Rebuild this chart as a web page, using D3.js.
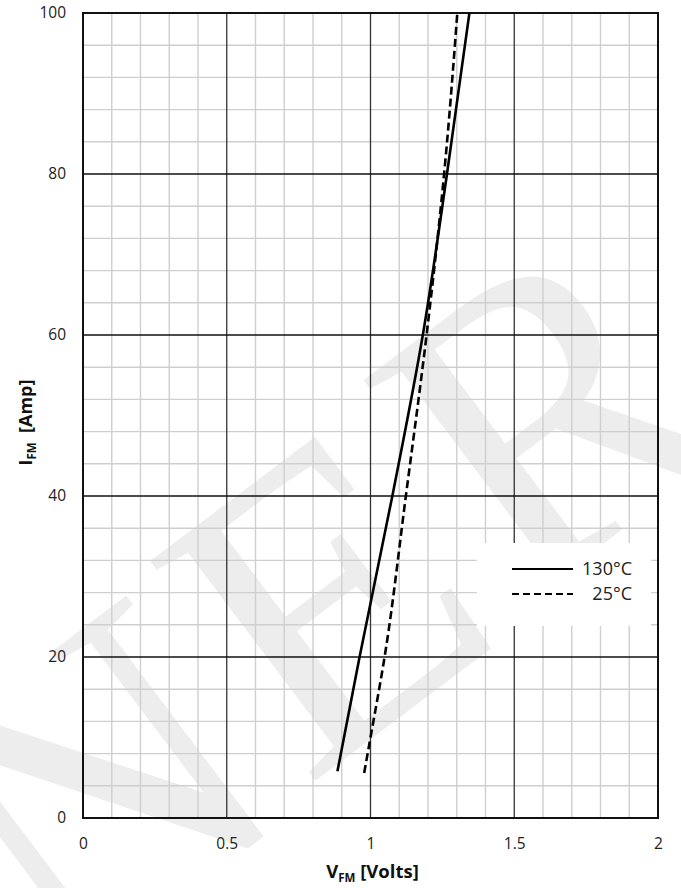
<!DOCTYPE html>
<html><head><meta charset="utf-8">
<script src="https://cdn.jsdelivr.net/npm/d3@7/dist/d3.min.js"></script>
<style>body{margin:0;background:#fff}svg{display:block}</style>
</head><body>
<script>
// ---- data ----
const xTickValues = [0, 0.5, 1, 1.5, 2];
const yTickValues = [0, 20, 40, 60, 80, 100];
const legendLabels = ["130°C", "25°C"];
const v130 = [0.885, 0.962, 1.076, 1.182, 1.266, 1.344];
const i130 = [5.8, 20, 40, 60, 80, 100];
const v25  = [0.978, 1.0, 1.049, 1.123, 1.195, 1.256, 1.302];
const i25  = [5.6, 10, 20, 40, 60, 80, 100];
const watermarkLetters = ["N", "E", "R"];

const W = 681, H = 888;
const L = 83, R = 658, T = 13, B = 818;
const font = "'Open Sans', 'Liberation Sans', sans-serif";

const svg = d3.select("body").append("svg").attr("width", W).attr("height", H);
svg.append("rect").attr("width", W).attr("height", H).attr("fill", "#fff");

// watermark
const wmPos = [[95, 790], [325, 600], [548, 412]];
svg.append("g").selectAll("text").data(watermarkLetters).join("text")
  .attr("transform", (d, k) => `translate(${wmPos[k][0]},${wmPos[k][1]}) rotate(-37)`)
  .attr("text-anchor", "middle").attr("dy", "0.33em")
  .attr("font-family", "'Liberation Serif', serif").attr("font-size", 420)
  .attr("fill", "#ededed").text(d => d);

const x = d3.scaleLinear().domain([0, 2]).range([L, R]);
const y = d3.scaleLinear().domain([0, 100]).range([B, T]);

// minor grid
const g = svg.append("g");
g.selectAll(".mx").data(d3.range(1, 20).filter(k => k % 5 !== 0).map(k => k / 10)).join("line")
  .attr("x1", d => x(d)).attr("x2", d => x(d)).attr("y1", T).attr("y2", B)
  .attr("stroke", "#cfcfcf").attr("stroke-width", 1.4);
g.selectAll(".my").data(d3.range(1, 25).filter(k => k % 5 !== 0).map(k => k * 4)).join("line")
  .attr("y1", d => y(d)).attr("y2", d => y(d)).attr("x1", L).attr("x2", R)
  .attr("stroke", "#cfcfcf").attr("stroke-width", 1.4);
// major grid
g.selectAll(".Mx").data([0.5, 1, 1.5]).join("line")
  .attr("x1", d => x(d)).attr("x2", d => x(d)).attr("y1", T).attr("y2", B)
  .attr("stroke", "#333").attr("stroke-width", 1.3);
g.selectAll(".My").data([20, 40, 60, 80]).join("line")
  .attr("y1", d => y(d)).attr("y2", d => y(d)).attr("x1", L).attr("x2", R)
  .attr("stroke", "#111").attr("stroke-width", 1.3);

// legend background (covers grid)
svg.append("rect").attr("x", 477).attr("y", 543).attr("width", 174).attr("height", 83).attr("fill", "#fff");

// border
svg.append("rect").attr("x", L).attr("y", T).attr("width", R - L).attr("height", B - T)
  .attr("fill", "none").attr("stroke", "#111").attr("stroke-width", 2);

// curves
const line = d3.line().x(d => x(d[0])).y(d => y(d[1])).curve(d3.curveMonotoneY);
svg.append("path").datum(v130.map((v, k) => [v, i130[k]])).attr("d", line)
  .attr("fill", "none").attr("stroke", "#000").attr("stroke-width", 2.6);
svg.append("path").datum(v25.map((v, k) => [v, i25[k]])).attr("d", line)
  .attr("fill", "none").attr("stroke", "#000").attr("stroke-width", 2.6).attr("stroke-dasharray", "8,4");

// axes (labels only)
const xa = svg.append("g").attr("transform", `translate(0,${B})`)
  .call(d3.axisBottom(x).tickValues(xTickValues).tickSize(0).tickPadding(20).tickFormat(d3.format("")));
const ya = svg.append("g").attr("transform", `translate(${L},0)`)
  .call(d3.axisLeft(y).tickValues(yTickValues).tickSize(0).tickPadding(17));
[xa, ya].forEach(a => {
  a.select(".domain").remove();
  a.selectAll("text").attr("font-family", font).attr("font-size", 15.5).attr("fill", "#222");
});

// axis titles
const xt = svg.append("text").attr("x", x(1) + 2).attr("y", 878).attr("text-anchor", "middle")
  .attr("font-family", font).attr("font-size", 18.5).attr("font-weight", "bold").attr("fill", "#111");
xt.append("tspan").text("V");
xt.append("tspan").attr("font-size", 11.5).attr("dy", 4).text("FM");
xt.append("tspan").attr("dy", -4).text(" [Volts]");

const yt = svg.append("text").attr("transform", `translate(32,${(T + B) / 2 + 7}) rotate(-90)`)
  .attr("text-anchor", "middle")
  .attr("font-family", font).attr("font-size", 18).attr("font-weight", "bold").attr("fill", "#111");
yt.append("tspan").text("I");
yt.append("tspan").attr("font-size", 11.5).attr("dy", 4).text("FM");
yt.append("tspan").attr("dy", -4).text("\u00a0\u00a0[Amp]");

// legend
const lg = svg.append("g");
const ly = [569, 594];
lg.selectAll("line").data(legendLabels).join("line")
  .attr("x1", 512).attr("x2", 573).attr("y1", (d, k) => ly[k]).attr("y2", (d, k) => ly[k])
  .attr("stroke", "#000").attr("stroke-width", 2)
  .attr("stroke-dasharray", (d, k) => k === 1 ? "7,4" : null);
lg.selectAll("text").data(legendLabels).join("text")
  .attr("x", 632).attr("y", (d, k) => ly[k] + 6).attr("text-anchor", "end")
  .attr("font-family", font).attr("font-size", 18).attr("fill", "#222").text(d => d);
</script>
</body></html>
